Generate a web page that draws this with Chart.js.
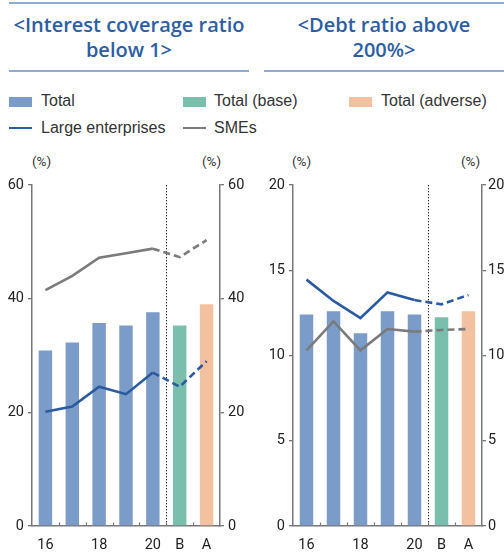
<!DOCTYPE html>
<html><head><meta charset="utf-8">
<script src="https://cdn.jsdelivr.net/npm/chart.js@4/dist/chart.umd.min.js"></script>
<style>
html,body{margin:0;padding:0;background:#fff;}
#wrap{position:relative;width:504px;height:553px;overflow:hidden;font-family:'Liberation Sans',Arial,sans-serif;}
.abs{position:absolute;}
.title{font-family:'Open Sans',sans-serif;font-weight:600;font-size:20px;line-height:24.5px;color:#2c5ea5;text-align:center;white-space:nowrap;}
.rule{position:absolute;height:2px;background:#8eaad3;}
.leg{position:absolute;font-size:16px;color:#333;white-space:nowrap;line-height:18px;}
.sw{position:absolute;width:23px;height:10px;}
.ln{position:absolute;width:23px;height:0;border-top:2.5px solid;}
.pct{position:absolute;font-family:Roboto,sans-serif;font-size:13.5px;color:#333;white-space:nowrap;}
canvas{position:absolute;}
</style>
</head>
<body>
<div id="wrap">
  <div class="rule" style="left:9px;width:495px;top:2px;"></div>
  <div class="abs title" style="left:0px;width:258px;top:13px;">&lt;Interest coverage ratio<br>below 1&gt;</div>
  <div class="abs title" style="left:264px;width:240px;top:13px;">&lt;Debt ratio above<br>200%&gt;</div>
  <div class="rule" style="left:9px;width:240px;top:70px;"></div>
  <div class="rule" style="left:264px;width:240px;top:70px;"></div>

  <div class="sw" style="left:9px;top:97px;background:#7b9bc9;"></div>
  <div class="leg" style="left:41px;top:92px;">Total</div>
  <div class="sw" style="left:183px;top:97px;background:#7abfae;"></div>
  <div class="leg" style="left:214px;top:92px;">Total (base)</div>
  <div class="sw" style="left:349px;top:97px;background:#f3c19f;"></div>
  <div class="leg" style="left:381px;top:92px;">Total (adverse)</div>
  <div class="ln" style="left:9px;top:127px;border-color:#2a5aa0;"></div>
  <div class="leg" style="left:41px;top:119px;">Large enterprises</div>
  <div class="ln" style="left:183px;top:127px;border-color:#7b7b7b;"></div>
  <div class="leg" style="left:214px;top:119px;">SMEs</div>

  <div class="pct" style="left:32px;top:153px;">(%)</div>
  <div class="pct" style="left:202px;top:153px;">(%)</div>
  <div class="pct" style="left:292px;top:153px;">(%)</div>
  <div class="pct" style="left:461px;top:153px;">(%)</div>

  <canvas id="c1" width="252" height="413" style="left:0px;top:140px;"></canvas>
  <canvas id="c2" width="250" height="413" style="left:254px;top:140px;"></canvas>
</div>
<script>
// ---- data ----
const categories = ['16','17','18','19','20','B','A'];
const xTickLabels = ['16','','18','','20','B','A'];

// Interest coverage ratio below 1 (%)
const icrTotal   = [30.9, 32.3, 35.7, 35.3, 37.6, null, null];
const icrBase    = [null, null, null, null, null, 35.3, null];
const icrAdverse = [null, null, null, null, null, null, 39.0];
const icrLarge   = [20.1, 21.0, 24.5, 23.2, 27.0, 24.5, 29.0];
const icrSME     = [41.5, 44.0, 47.2, 48.0, 48.8, 47.3, 50.3];
const icrTicks   = [0, 20, 40, 60];

// Debt ratio above 200% (%)
const drTotal    = [12.4, 12.6, 11.3, 12.6, 12.4, null, null];
const drBase     = [null, null, null, null, null, 12.25, null];
const drAdverse  = [null, null, null, null, null, null, 12.6];
const drLarge    = [14.45, 13.2, 12.2, 13.7, 13.25, 13.0, 13.55];
const drSME      = [10.3, 12.0, 10.3, 11.55, 11.4, 11.5, 11.55];
const drTicks    = [0, 5, 10, 15, 20];

// ---- styles ----
const C_TOTAL = '#7b9bc9', C_BASE = '#7abfae', C_ADV = '#f3c19f';
const C_LARGE = '#2a5aa0', C_SME = '#7b7b7b', C_AXIS = '#777777';
const TICK_FONT = {family: "Roboto, 'Liberation Sans', sans-serif", size: 14.5};

const decor = {
  id: 'decor',
  beforeDatasetsDraw(chart) {
    const {ctx, chartArea: a} = chart;
    const x = chart.scales.x;
    ctx.save();
    const d = (x.getPixelForValue(4) + x.getPixelForValue(5)) / 2;
    ctx.setLineDash([1.3, 1.7]);
    ctx.strokeStyle = '#222';
    ctx.lineWidth = 1;
    ctx.beginPath(); ctx.moveTo(Math.round(d) + 0.5, a.top); ctx.lineTo(Math.round(d) + 0.5, a.bottom); ctx.stroke();
    ctx.restore();
  },
  afterDraw(chart) {
    const {ctx, chartArea: a} = chart;
    const x = chart.scales.x;
    ctx.save();
    ctx.strokeStyle = C_AXIS;
    ctx.lineWidth = 1.2;
    for (let i = 0; i < categories.length - 1; i++) {
      const px = Math.round((x.getPixelForValue(i) + x.getPixelForValue(i + 1)) / 2) + 0.5;
      ctx.beginPath(); ctx.moveTo(px, a.bottom); ctx.lineTo(px, a.bottom - 3.5); ctx.stroke();
    }
    ctx.restore();
  }
};

function yAxis(pos, max, ticks, width, pad) {
  return {
    position: pos, min: 0, max: max,
    afterBuildTicks: s => { s.ticks = ticks.map(v => ({value: v})); },
    afterFit: s => { s.width = width; },
    grid: {drawOnChartArea: false, tickLength: 4, color: C_AXIS, lineWidth: 1.3},
    border: {display: true, color: C_AXIS, width: 1.5},
    ticks: {font: TICK_FONT, color: '#222', padding: pad}
  };
}

function makeChart(id, total, base, adv, large, sme, max, ticks, lw, rw, lpad, rpad) {
  const dash = ctx => ctx.p0DataIndex >= 4 ? [7, 4] : undefined;
  new Chart(document.getElementById(id), {
    data: {
      labels: categories,
      datasets: [
        {type: 'line', data: large, borderColor: C_LARGE, borderWidth: 2.6, pointRadius: 0, tension: 0, order: 0, yAxisID: 'y', segment: {borderDash: dash}},
        {type: 'line', data: sme, borderColor: C_SME, borderWidth: 2.6, pointRadius: 0, tension: 0, order: 1, yAxisID: 'y', segment: {borderDash: dash}},
        {type: 'bar', data: total, backgroundColor: C_TOTAL, order: 2, yAxisID: 'y'},
        {type: 'bar', data: base, backgroundColor: C_BASE, order: 3, yAxisID: 'y'},
        {type: 'bar', data: adv, backgroundColor: C_ADV, order: 4, yAxisID: 'y'}
      ]
    },
    options: {
      responsive: false, animation: false, devicePixelRatio: 1,
      layout: {padding: {top: 45, left: 0, right: 0, bottom: 0}},
      datasets: {bar: {grouped: false, barPercentage: 0.5, categoryPercentage: 1}},
      plugins: {legend: {display: false}, tooltip: {enabled: false}},
      scales: {
        x: {
          offset: true,
          afterFit: s => { s.height = 27; },
          grid: {display: false, drawTicks: false},
          border: {display: true, color: C_AXIS, width: 1.5},
          ticks: {font: TICK_FONT, color: '#222', padding: 11, autoSkip: false, maxRotation: 0,
                  callback: (v, i) => xTickLabels[i]}
        },
        y: yAxis('left', max, ticks, lw, lpad),
        y2: yAxis('right', max, ticks, rw, rpad)
      }
    },
    plugins: [decor]
  });
}

makeChart('c1', icrTotal, icrBase, icrAdverse, icrLarge, icrSME, 60, icrTicks, 32, 32, 4, 4);
makeChart('c2', drTotal, drBase, drAdverse, drLarge, drSME, 20, drTicks, 39, 22, 4, 2);
</script>
</body></html>
